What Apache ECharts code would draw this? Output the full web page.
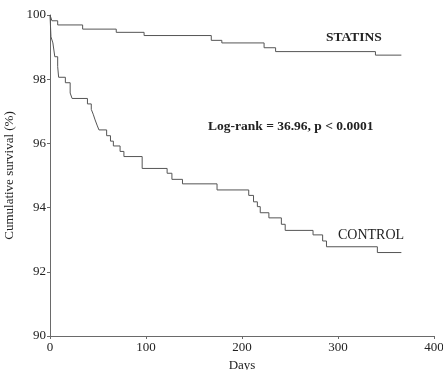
<!DOCTYPE html>
<html>
<head>
<meta charset="utf-8">
<script src="https://cdn.jsdelivr.net/npm/echarts@6/dist/echarts.min.js"></script>
<style>
  html, body {margin: 0; padding: 0; background: #fff;}
  #chart {width: 443px; height: 370px;}
</style>
</head>
<body>
<div id="chart"></div>
<script>
// Kaplan-Meier steps (day of event, survival % after it)
const statinsDays = [0, 2, 8, 34, 69, 98, 168, 179, 223, 235, 339, 366];
const statinsSurv = [100, 99.82, 99.69, 99.56, 99.46, 99.36, 99.21, 99.13, 98.98, 98.86, 98.75, 98.75];

const controlDays = [0, 1, 3, 5, 8, 9, 16, 21, 23, 39, 43, 45, 47, 49, 51, 59, 63, 66, 73, 77, 96,
  122, 127, 138, 174, 207, 212, 216, 219, 228, 241, 245, 274, 284, 288, 341, 366];
const controlSurv = [100, 99.32, 99.13, 98.7, 98.39, 98.06, 97.89, 97.57, 97.4, 97.23, 97.06, 96.91, 96.73, 96.57, 96.42, 96.24, 96.07, 95.92, 95.75, 95.59, 95.22,
  95.07, 94.88, 94.74, 94.55, 94.38, 94.18, 94.03, 93.84, 93.68, 93.48, 93.29, 93.15, 92.96, 92.78, 92.6, 92.6];

const xTicks = [0, 100, 200, 300, 400];
const yTicks = [90, 92, 94, 96, 98, 100];

const font = '"Liberation Serif", "DejaVu Serif", serif';
const lineColor = '#555';
const axisColor = '#6a6a6a';

const zip = (xs, ys) => xs.map((x, i) => [x, ys[i]]);

const chart = echarts.init(document.getElementById('chart'));
chart.setOption({
  animation: false,
  grid: {left: 50, right: 9, top: 15, bottom: 34, outerBoundsMode: 'none'},
  xAxis: {
    type: 'value',
    min: xTicks[0],
    max: xTicks[xTicks.length - 1],
    interval: 100,
    name: 'Days',
    nameLocation: 'middle',
    nameGap: 19,
    nameTextStyle: {fontFamily: font, fontSize: 13, color: '#222'},
    axisLine: {lineStyle: {color: axisColor}},
    axisTick: {show: true, length: 3, lineStyle: {color: axisColor}},
    axisLabel: {fontFamily: font, fontSize: 13, color: '#222', margin: 5},
    splitLine: {show: false}
  },
  yAxis: {
    type: 'value',
    min: yTicks[0],
    max: yTicks[yTicks.length - 1],
    interval: 2,
    name: 'Cumulative survival (%)',
    nameLocation: 'middle',
    nameGap: 27,
    nameTextStyle: {fontFamily: font, fontSize: 13, color: '#222'},
    axisLine: {show: true, lineStyle: {color: axisColor}},
    axisTick: {show: true, length: 3, lineStyle: {color: axisColor}},
    axisLabel: {fontFamily: font, fontSize: 13, color: '#222', margin: 4},
    splitLine: {show: false}
  },
  series: [
    {
      name: 'STATINS',
      type: 'line',
      step: 'end',
      showSymbol: false,
      data: zip(statinsDays, statinsSurv),
      lineStyle: {color: lineColor, width: 1}
    },
    {
      name: 'CONTROL',
      type: 'line',
      step: 'end',
      showSymbol: false,
      data: zip(controlDays, controlSurv),
      lineStyle: {color: lineColor, width: 1}
    }
  ],
  graphic: [
    {type: 'text', left: 326, top: 31, style: {text: 'STATINS', font: 'bold 13.5px ' + font, fill: '#222'}},
    {type: 'text', left: 208, top: 120, style: {text: 'Log-rank = 36.96, p < 0.0001', font: 'bold 13.5px ' + font, fill: '#222'}},
    {type: 'text', left: 338, top: 228, style: {text: 'CONTROL', font: '14px ' + font, fill: '#222'}}
  ]
});
</script>
</body>
</html>
